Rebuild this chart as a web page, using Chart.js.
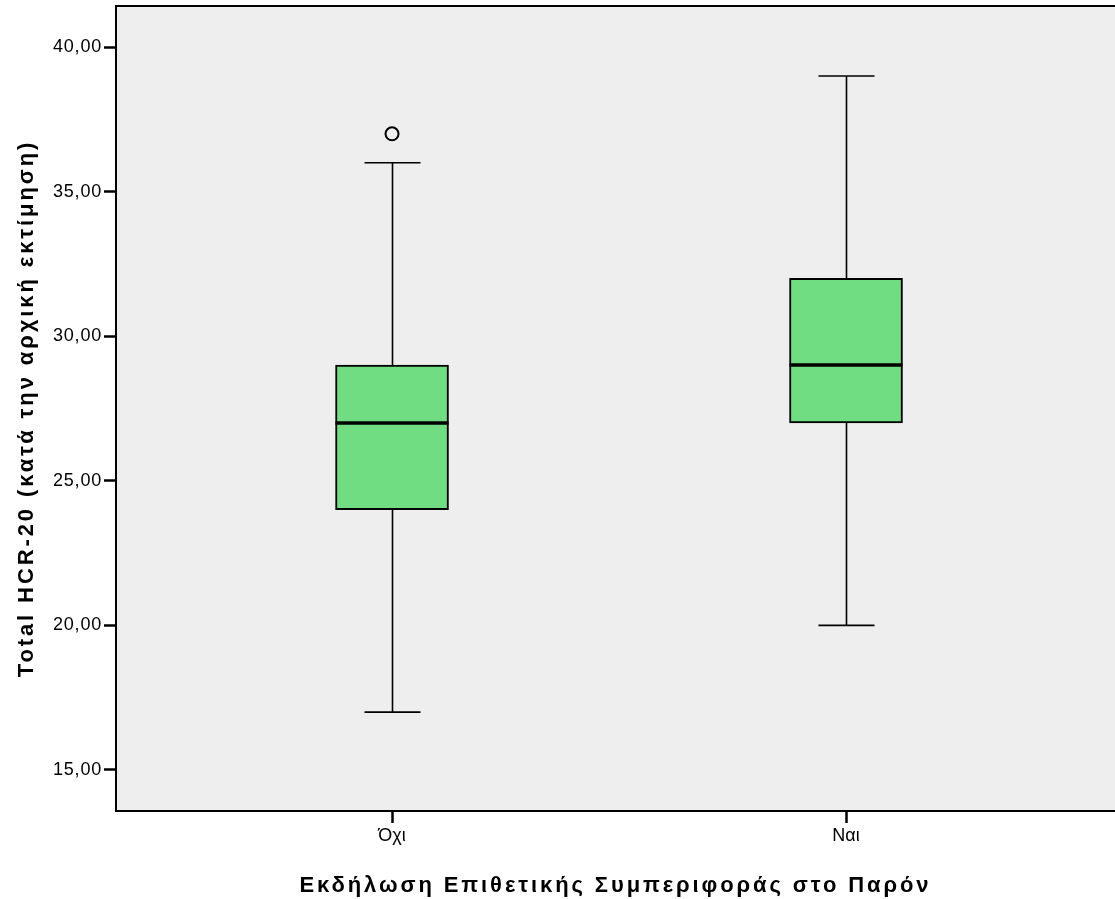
<!DOCTYPE html>
<html>
<head>
<meta charset="utf-8">
<script src="https://cdn.jsdelivr.net/npm/chart.js@4/dist/chart.umd.min.js"></script>
<style>
  html, body { margin: 0; padding: 0; background: #fff; overflow: hidden; }
  #wrap { width: 1115px; height: 899px; }
  canvas { display: block; }
</style>
</head>
<body>
<div id="wrap"><canvas id="c" width="1115" height="899"></canvas></div>
<script>
// Groups and five-number summaries of Total HCR-20
const categories = ['Όχι', 'Ναι'];
const whiskerLow  = [17, 20];
const q1          = [24, 27];
const medians     = [27, 29];
const q3          = [29, 32];
const whiskerHigh = [36, 39];
const outliers    = [{ group: 0, value: 37 }];
const yTicks      = [15, 20, 25, 30, 35, 40];

const fmt = v => v.toFixed(2).replace('.', ',');
const FONT = 'Liberation Sans, Arial, sans-serif';

const boxData = categories.map((_, i) => ({ x: i, y: [q1[i], q3[i]] }));
const outlierData = outliers.map(o => ({ x: o.group, y: o.value }));

// letter spacing for a scale's title and tick labels
function spaced(scale, titleSpacing, labelSpacing) {
  if (scale._spaced) return;
  const wrap = (name, spacing) => {
    const orig = scale[name].bind(scale);
    scale[name] = function (...args) {
      const ctx = this.ctx;
      const prev = ctx.letterSpacing;
      ctx.letterSpacing = spacing;
      orig(...args);
      ctx.letterSpacing = prev;
    };
  };
  wrap('drawTitle', titleSpacing);
  wrap('drawLabels', labelSpacing);
  scale._spaced = true;
}

// plot background, top frame line, whiskers and medians
const boxDecor = {
  id: 'boxDecor',
  beforeDraw(chart) {
    const { ctx, chartArea: a } = chart;
    ctx.save();
    ctx.fillStyle = '#EEEEEE';
    ctx.fillRect(a.left, a.top, a.right - a.left, a.bottom - a.top);
    ctx.restore();
  },
  beforeDatasetsDraw(chart) {
    const { ctx, scales: { x, y } } = chart;
    const capHalf = 28;
    ctx.save();
    ctx.strokeStyle = '#000';
    ctx.lineWidth = 1.6;
    categories.forEach((_, i) => {
      const cx = Math.round(x.getPixelForValue(i)) + 0.5;
      const lo = y.getPixelForValue(whiskerLow[i]);
      const hi = y.getPixelForValue(whiskerHigh[i]);
      const b1 = y.getPixelForValue(q1[i]);
      const b3 = y.getPixelForValue(q3[i]);
      ctx.beginPath();
      ctx.moveTo(cx, hi); ctx.lineTo(cx, b3);
      ctx.moveTo(cx, b1); ctx.lineTo(cx, lo);
      ctx.moveTo(cx - capHalf, hi); ctx.lineTo(cx + capHalf, hi);
      ctx.moveTo(cx - capHalf, lo); ctx.lineTo(cx + capHalf, lo);
      ctx.stroke();
    });
    ctx.restore();
  },
  afterDatasetsDraw(chart) {
    const { ctx, chartArea: a, scales: { y } } = chart;
    const meta = chart.getDatasetMeta(0);
    ctx.save();
    ctx.strokeStyle = '#000';
    ctx.lineWidth = 3.5;
    categories.forEach((_, i) => {
      const bar = meta.data[i];
      const half = bar.width / 2;
      const my = y.getPixelForValue(medians[i]);
      ctx.beginPath();
      ctx.moveTo(bar.x - half, my); ctx.lineTo(bar.x + half, my);
      ctx.stroke();
    });
    ctx.lineWidth = 2;
    ctx.beginPath();
    ctx.moveTo(a.left - 1, a.top); ctx.lineTo(a.right, a.top);
    ctx.stroke();
    ctx.restore();
  }
};

new Chart(document.getElementById('c'), {
  type: 'bar',
  data: {
    datasets: [
      {
        type: 'bar',
        data: boxData,
        backgroundColor: '#70DD83',
        borderColor: '#000',
        borderWidth: 2,
        borderSkipped: false,
        barThickness: 113
      },
      {
        type: 'scatter',
        data: outlierData,
        pointRadius: 6.5,
        pointBorderWidth: 2,
        pointBorderColor: '#000',
        pointBackgroundColor: 'rgba(0,0,0,0)',
        clip: false
      }
    ]
  },
  options: {
    responsive: false,
    animation: false,
    layout: { autoPadding: false, padding: { top: 6, right: 0, left: 0, bottom: 0 } },
    plugins: { legend: { display: false }, tooltip: { enabled: false } },
    scales: {
      x: {
        type: 'linear',
        offset: false,
        min: -0.608,
        max: 1.5925,
        afterBuildTicks: s => { s.ticks = categories.map((_, i) => ({ value: i })); },
        afterFit: s => {
          s.height = 88;
          s.paddingLeft = 0; s.paddingRight = 0;
          spaced(s, '2.9px', '0px');
        },
        ticks: {
          callback: v => categories[v],
          color: '#000',
          font: { family: FONT, size: 18 },
          padding: 2,
          maxRotation: 0,
          autoSkip: false
        },
        grid: { offset: false, drawOnChartArea: false, drawTicks: true, tickLength: 12, tickColor: '#000', tickWidth: 2.5 },
        border: { display: true, color: '#000', width: 2 },
        title: {
          display: true,
          text: 'Εκδήλωση Επιθετικής Συμπεριφοράς στο Παρόν',
          color: '#000',
          font: { family: FONT, size: 22, weight: 'bold' },
          padding: { top: 14, bottom: 0 }
        }
      },
      y: {
        min: 13.582,
        max: 41.418,
        afterBuildTicks: s => { s.ticks = yTicks.map(v => ({ value: v })); },
        afterFit: s => {
          s.width = 116;
          s.paddingTop = 0; s.paddingBottom = 0;
          spaced(s, '2.9px', '0.8px');
        },
        ticks: {
          callback: v => fmt(v),
          color: '#000',
          font: { family: FONT, size: 18 },
          padding: 2
        },
        grid: { drawOnChartArea: false, drawTicks: true, tickLength: 12, tickColor: '#000', tickWidth: 2.5 },
        border: { display: true, color: '#000', width: 2 },
        title: {
          display: true,
          text: 'Total HCR-20 (κατά την αρχική εκτίμηση)',
          color: '#000',
          font: { family: FONT, size: 22, weight: 'bold' },
          padding: { top: 14, bottom: 0 }
        }
      }
    }
  },
  plugins: [boxDecor]
});
</script>
</body>
</html>
